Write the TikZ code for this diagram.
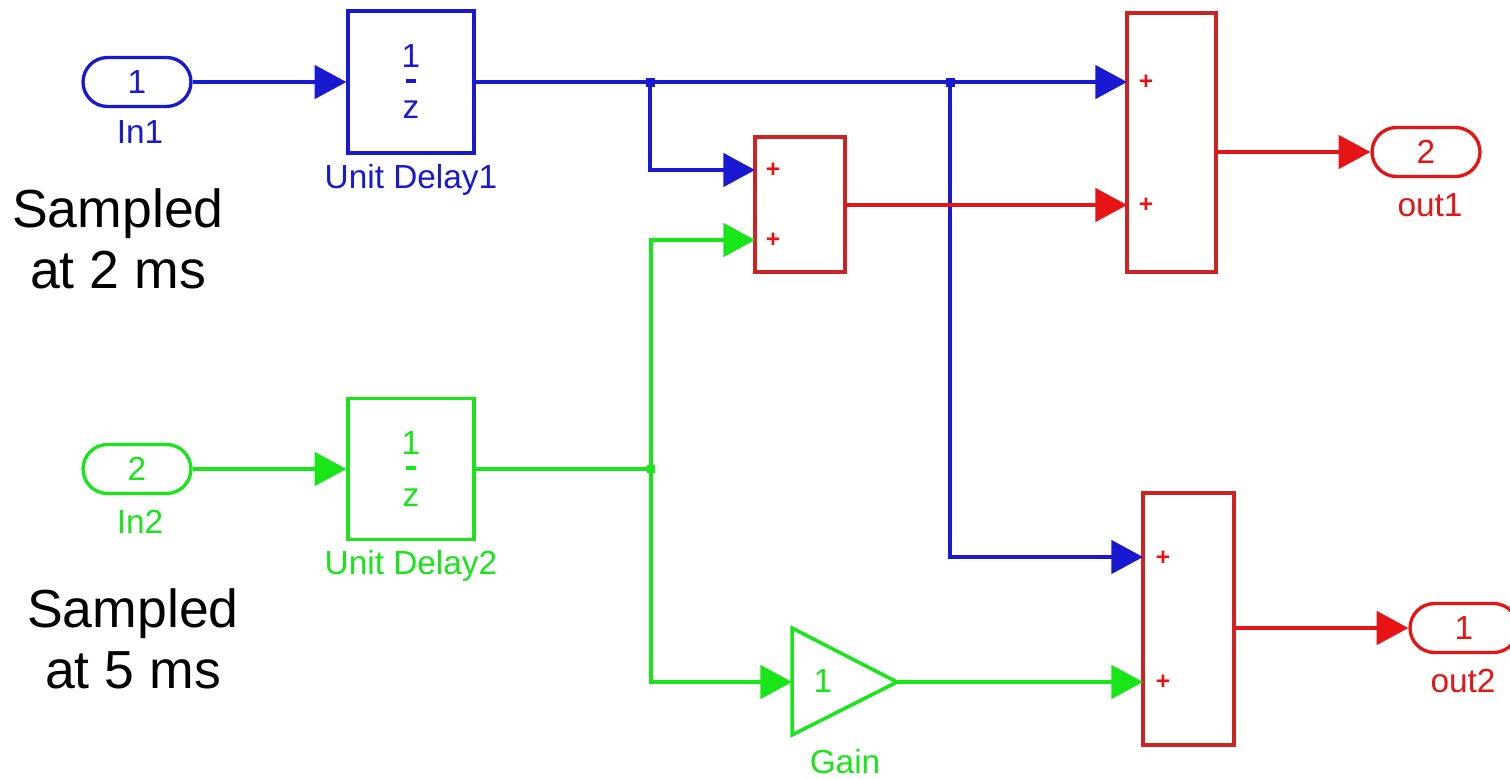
\documentclass[tikz,border=0pt]{standalone}
\usepackage{fontspec}
\setmainfont{Liberation Sans}
\usetikzlibrary{arrows.meta,shapes.misc}
\definecolor{sblue}{RGB}{25,25,210}
\definecolor{sgreen}{RGB}{25,230,25}
\definecolor{sred}{RGB}{230,20,20}
\definecolor{sboxred}{RGB}{205,35,35}
\begin{document}
\begin{tikzpicture}[x=0.02cm,y=-0.02cm,
  wire/.style={line width=1.9pt},
  tipped/.style={-{Triangle[length=18pt,width=19pt]}},
  blk/.style={draw,line width=1.9pt,inner sep=0pt,rectangle},
  pill/.style={draw,line width=1.9pt,rounded rectangle,inner sep=0pt,minimum width=2.16cm,minimum height=0.98cm,font=\fontsize{19}{20}\selectfont},
  lbl/.style={font=\fontsize{19}{20}\selectfont},
  big/.style={font=\fontsize{30.5}{34.5}\selectfont,align=center},
  plus/.style={font=\bfseries\fontsize{14}{14}\selectfont,text=sred,inner sep=0pt}]
\useasboundingbox (0,0) rectangle (1510,778);

% side notes
\node[big] (note1) at (118,239) {Sampled\\at 2 ms};
\node[big] (note2) at (133,639) {Sampled\\at 5 ms};

% inports
\node[pill,sblue] (in1) at (137,82) {1};
\node[lbl,sblue] (in1l) at (140,132) {In1};
\node[pill,sgreen] (in2) at (137,469) {2};
\node[lbl,sgreen] (in2l) at (140,522) {In2};

% unit delays
\node[blk,sblue,minimum width=2.52cm,minimum height=2.84cm] (ud1) at (411,82) {};
\node[lbl,sblue] (ud1n) at (411,56) {1};
\node[lbl,sblue] (ud1d) at (411,110) {z};
\draw[sblue,line width=1.8pt] (406,81) -- (416,81);
\node[lbl,sblue] (ud1l) at (411,180) {Unit Delay1};

\node[blk,sgreen,minimum width=2.52cm,minimum height=2.82cm] (ud2) at (411,469) {};
\node[lbl,sgreen] (ud2n) at (411,443) {1};
\node[lbl,sgreen] (ud2d) at (411,498) {z};
\draw[sgreen,line width=1.8pt] (406,468) -- (416,468);
\node[lbl,sgreen] (ud2l) at (411,566) {Unit Delay2};

% sums
\node[blk,sboxred,minimum width=1.8cm,minimum height=2.7cm] (sum1) at (800,204.5) {};
\node[blk,sboxred,minimum width=1.78cm,minimum height=5.18cm] (sum3) at (1171.5,142.5) {};
\node[blk,sboxred,minimum width=1.82cm,minimum height=5.04cm] (sum2) at (1188.5,619) {};
\node[plus] (p1a) at (773,170) {+};
\node[plus] (p1b) at (773,240) {+};
\node[plus] (p3a) at (1146,82) {+};
\node[plus] (p3b) at (1146,205) {+};
\node[plus] (p2a) at (1163,558) {+};
\node[plus] (p2b) at (1163,682) {+};

% ports
\coordinate (s1a) at (755,170);
\coordinate (s1b) at (755,240);
\coordinate (s1o) at (845,205);
\coordinate (s3a) at (1127,82);
\coordinate (s3b) at (1127,205);
\coordinate (s3o) at (1216,152);
\coordinate (s2a) at (1143,557);
\coordinate (s2b) at (1143,682);
\coordinate (s2o) at (1234,628);

% gain
\coordinate (gin) at (792,682);
\coordinate (gout) at (897,682);
\draw[sgreen,line width=2pt,line join=miter] (792,628) -- (gout) -- (792,735) -- cycle;
\node[lbl,sgreen] (gainv) at (823,681) {1};
\node[lbl,sgreen] (gainl) at (845,762) {Gain};

% outports
\node[pill,sred] (out1) at (1426,152) {2};
\node[lbl,sred] (out1l) at (1430,205) {out1};
\node[pill,sred] (out2) at (1464,628) {1};
\node[lbl,sred] (out2l) at (1463,681) {out2};

% junctions
\coordinate (j1) at (650,82);
\coordinate (j2) at (950,82);
\coordinate (j3) at (651,469);

% blue wires
\draw[wire,sblue,tipped] (in1.east) -- (ud1.west);
\draw[wire,sblue,tipped] (ud1.east) -- (s3a);
\draw[wire,sblue,tipped] (j1) |- (s1a);
\draw[wire,sblue,tipped] (j2) |- (s2a);
\fill[sblue] (j1) +(-4.5,-4.5) rectangle +(4.5,4.5);
\fill[sblue] (j2) +(-4.5,-4.5) rectangle +(4.5,4.5);

% green wires
\draw[wire,sgreen,tipped] (in2.east) -- (ud2.west);
\draw[wire,sgreen] (ud2.east) -- (j3);
\draw[wire,sgreen,tipped] (j3) |- (s1b);
\draw[wire,sgreen,tipped] (j3) |- (gin);
\draw[wire,sgreen,tipped] (gout) -- (s2b);
\fill[sgreen] (j3) +(-4,-4) rectangle +(4,4);

% red wires
\draw[wire,sred,tipped] (s1o) -- (s3b);
\draw[wire,sred,tipped] (s3o) -- (out1.west);
\draw[wire,sred,tipped] (s2o) -- (out2.west);
\end{tikzpicture}
\end{document}
